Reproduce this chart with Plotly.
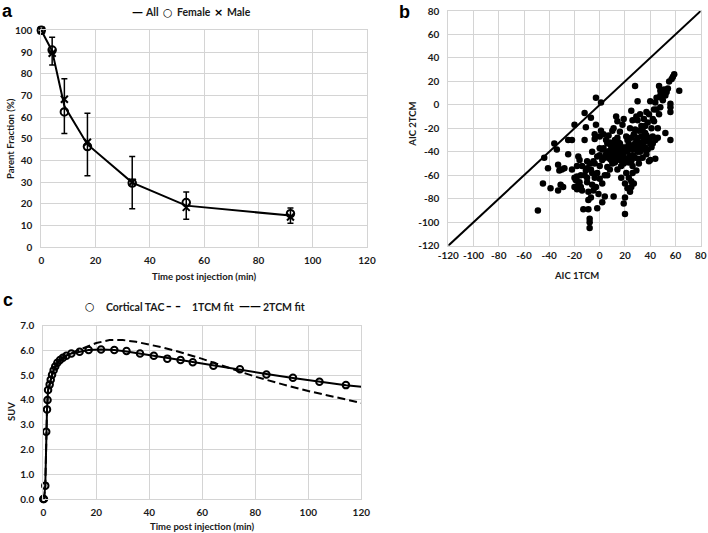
import plotly.graph_objects as go

W, H = 708, 533

# ---------- Panel a data ----------
pf_time = [0, 4, 8.5, 17, 33.5, 53.4, 91.8]
pf_all = [100, 90.4, 65.1, 47.4, 29.8, 19.2, 14.6]
pf_all_err = [0, 6.4, 12.6, 14.4, 12.0, 6.3, 3.5]
pf_female = [100, 90.9, 62.4, 46.4, 29.6, 20.6, 15.5]
pf_male = [100, 89.4, 68.2, 48.4, 30.0, 18.4, 14.0]

# ---------- Panel b data ----------
aic_1tcm = [
    -49, -45, -44, -41, -39, -36, -34, -33, -33, -32,
    -31, -30, -29, -28, -25, -25, -22, -20, -20, -19,
    -18, -18, -17, -17, -16, -15, -15, -14, -13, -12,
    -12, -11, -11, -10, -10, -10, -9, -9, -9, -8,
    -8, -8, -7, -7, -7, -6, -6, -5, -5, -4,
    -4, -4, -3, -3, -3, -2, -2, -1, 0, 0,
    0, 0, 1, 1, 2, 2, 2, 3, 3, 4,
    4, 5, 5, 6, 6, 7, 8, 8, 9, 10,
    10, 11, 11, 12, 12, 13, 13, 14, 14, 15,
    15, 16, 16, 17, 17, 18, 18, 19, 19, 19,
    20, 20, 20, 21, 21, 21, 22, 22, 23, 23,
    24, 24, 25, 25, 25, 26, 26, 26, 27, 27,
    28, 28, 28, 29, 29, 30, 30, 30, 31, 31,
    32, 32, 33, 33, 34, 35, 35, 36, 36, 37,
    37, 38, 38, 39, 40, 40, 40, 41, 41, 42,
    43, 44, 45, 46, 47, 47, 48, 48, 49, 50,
    51, 52, 53, 54, 55, 56, 56, 56, 56, 57,
    58, 59, 63, 52, 10, 12, 14, 15, 16, 17,
    18, 13, 11, 9, 7, 6, 8, 14, 20, 22,
    24, 26, 28, 30, 32, 34, 36, 38, 39, 24,
    22, 19, 26, 23, 25, 27, 29, 31, 33, 35,
    37, 42, 44, 43, 46, 48, 50, 45, 44, 42,
    39, 36, 34, 31, 29, 27, 25, 21, 18, 16,
    13, 10, 8, 6, 4, 2, 0, -2, -4, -6,
    -8, -10, -12, -14, -16, -18, -20, -22,
]
aic_2tcm = [
    -90, -67, -45, -54, -71, -33, -38, -51, -73, -56,
    -68, -55, -70, -54, -42, -30, -30, -17, -70, -64,
    -61, -52, -44, -68, -47, -60, -70, -73, -89, -7,
    -30, -19, -56, -62, -66, -48, -89, -74, -81, -97,
    -100, -105, -11, -55, -79, -40, -68, -48, -73, -29,
    -25, -50, 6, -17, -70, -88, -44, -76, -37, -27,
    -52, -63, -22, 2, -47, -67, -83, -25, -37, -60,
    -78, -30, -42, -33, -53, -26, -39, -46, -35, -22,
    -42, -20, -78, -49, -30, -10, -38, -14, -55, -32,
    -45, -23, -41, -52, -62, -17, -36, -12, -44, -84,
    -93, -67, -79, -27, -46, -58, -40, -71, -33, -49,
    -20, -74, -5, -28, -65, -13, -43, -52, -35, -25,
    16, -21, -45, -10, -30, 3, -40, -13, -22, -50,
    -8, -35, -27, -18, -45, -12, -38, -24, -31, -6,
    -42, -15, -28, -48, 3, -33, -47, -20, -36, -27,
    -4, -46, -4, -28, -8, 16, 8, 12, 6, 10,
    13, 8, 11, 14, 20, 1, -2, -6, -30, 22,
    24, 26, 12, -24, -38, -44, -40, -36, -47, -42,
    -40, -45, -35, -47, -44, -40, -32, -28, -37, -30,
    -36, -38, -33, -28, -40, -33, -36, -38, -30, -44,
    -48, -50, -58, -62, -70, -67, -56, -46, -36, -30,
    -26, -33, -30, -14, -20, -2, 4, 6, 2, -12,
    -8, -18, -22, -32, -38, -44, -48, -36, -46, -33,
    -32, -50, -55, -60, -45, -38, -43, -58, -62, -58,
    -50, -54, -60, -52, -66, -72, -62, -55,
]
identity_x = [-120, 80]
identity_y = [-120, 80]
aic_tickvals = [-120, -100, -80, -60, -40, -20, 0, 20, 40, 60, 80]
aic_ticktext = ["-120", "-100", "-80", "-60", "-40", "-20", "0", "20", "40", "60", "80"]

# ---------- Panel c data ----------
tac_time = [0, 0.25, 0.75, 1.1, 1.4, 1.6, 1.8, 2.4, 2.8, 3.3, 3.9, 4.5, 5.3, 6.3,
            7.4, 8.7, 10.6, 13.7, 17.1, 21.8, 26.8, 31.4, 36.5, 41.7, 46.8, 51.8,
            56.4, 64.2, 74.2, 84.2, 94.2, 104.2, 114.2]
tac_suv = [0, 0, 0.54, 2.72, 3.62, 4.0, 4.4, 4.62, 4.82, 5.02, 5.2, 5.35, 5.5, 5.61,
           5.71, 5.79, 5.88, 5.95, 6.02, 6.04, 6.02, 5.98, 5.88, 5.79, 5.67, 5.61,
           5.52, 5.38, 5.24, 5.03, 4.90, 4.74, 4.60]
fit2_time = [0, 0.25, 0.75, 1.1, 1.4, 1.6, 1.8, 2.4, 2.8, 3.3, 3.9, 4.5, 5.3, 6.3,
             7.4, 8.7, 10.6, 13.7, 17.1, 21.8, 26.8, 31.4, 36.5, 41.7, 46.8, 51.8,
             56.4, 64.2, 74.2, 84.2, 94.2, 104.2, 114.2, 120]
fit2_suv = [0, 0, 0.54, 2.72, 3.62, 4.0, 4.4, 4.62, 4.82, 5.02, 5.2, 5.35, 5.5, 5.61,
            5.71, 5.79, 5.88, 5.95, 6.02, 6.04, 6.02, 5.96, 5.88, 5.79, 5.69, 5.61,
            5.53, 5.39, 5.22, 5.05, 4.89, 4.73, 4.59, 4.53]
fit1_time = [0, 0.25, 0.75, 1.1, 1.4, 1.6, 1.8, 2.4, 2.8, 3.3, 3.9, 4.5, 5.3, 6.3,
             7.4, 8.7, 10.6, 13.7, 17, 20, 25, 30, 35, 40, 45, 50, 55, 60, 70, 80,
             90, 100, 110, 120]
fit1_suv = [0, 0, 0.54, 2.72, 3.62, 4.0, 4.4, 4.62, 4.82, 5.02, 5.2, 5.35, 5.5, 5.61,
            5.71, 5.79, 5.9, 6.04, 6.17, 6.3, 6.42, 6.42, 6.35, 6.25, 6.12, 5.98,
            5.83, 5.66, 5.3, 4.94, 4.64, 4.36, 4.12, 3.88]

FONT = "Lato"
TXT = "#1a1a1a"
GRID = "#d4d4d4"


def px_x(p):
    return p / W


def px_y(p):
    return 1 - p / H


fig = go.Figure()

# Panel a
fig.add_trace(go.Scatter(
    x=pf_time, y=pf_all, mode="lines", name="All",
    line=dict(color="black", width=2), cliponaxis=False,
    error_y=dict(type="data", array=pf_all_err, visible=True, color="black",
                 thickness=1.5, width=3),
    xaxis="x", yaxis="y", showlegend=False))
fig.add_trace(go.Scatter(
    x=pf_time, y=pf_female, mode="markers", name="Female", cliponaxis=False,
    marker=dict(symbol="circle-open", size=7.5, color="black", line=dict(width=2)),
    xaxis="x", yaxis="y", showlegend=False))
fig.add_trace(go.Scatter(
    x=pf_time, y=pf_male, mode="markers", name="Male", cliponaxis=False,
    marker=dict(symbol="x-thin-open", size=7, color="black", line=dict(width=2)),
    xaxis="x", yaxis="y", showlegend=False))

# Panel b
fig.add_trace(go.Scatter(
    x=identity_x, y=identity_y, mode="lines", showlegend=False,
    line=dict(color="black", width=2), xaxis="x2", yaxis="y2"))
fig.add_trace(go.Scatter(
    x=aic_1tcm, y=aic_2tcm, mode="markers", showlegend=False,
    marker=dict(symbol="circle", size=6.5, color="black"),
    xaxis="x2", yaxis="y2"))

# Panel c
fig.add_trace(go.Scatter(
    x=fit1_time, y=fit1_suv, mode="lines", name="1TCM fit",
    line=dict(color="black", width=2, dash="8px,4px"),
    xaxis="x3", yaxis="y3", showlegend=False))
fig.add_trace(go.Scatter(
    x=fit2_time, y=fit2_suv, mode="lines", name="2TCM fit",
    line=dict(color="black", width=2),
    xaxis="x3", yaxis="y3", showlegend=False))
fig.add_trace(go.Scatter(
    x=tac_time, y=tac_suv, mode="markers", name="Cortical TAC", cliponaxis=False,
    marker=dict(symbol="circle-open", size=6.5, color="black", line=dict(width=2)),
    xaxis="x3", yaxis="y3", showlegend=False))

axis_common = dict(showgrid=True, gridcolor=GRID, gridwidth=1, zeroline=False,
                   showline=True, mirror=True, linecolor=GRID, linewidth=1,
                   ticks="", automargin=False, tickangle=0,
                   tickfont=dict(family=FONT, size=10, color=TXT, weight="bold"))

fig.update_layout(
    width=W, height=H, margin=dict(l=0, r=0, t=0, b=0),
    paper_bgcolor="white", plot_bgcolor="white",
    font=dict(family=FONT, color=TXT),
    showlegend=False,
    xaxis=dict(domain=[px_x(41.3), px_x(367)], range=[0, 120], dtick=20,
               anchor="y", ticklabelstandoff=4, **axis_common),
    yaxis=dict(domain=[px_y(247.3), px_y(30.3)], range=[0, 100], dtick=10,
               anchor="x", ticklabelstandoff=6, **axis_common),
    xaxis2=dict(domain=[px_x(448.3), px_x(700.7)], range=[-120, 80],
                tickmode="array", tickvals=aic_tickvals, ticktext=aic_ticktext,
                anchor="y2", **axis_common),
    yaxis2=dict(domain=[px_y(245.7), px_y(11)], range=[-120, 80],
                tickmode="array", tickvals=aic_tickvals, ticktext=aic_ticktext,
                anchor="x2", ticklabelstandoff=6, **axis_common),
    xaxis3=dict(domain=[px_x(43.3), px_x(361.3)], range=[0, 120], dtick=20,
                anchor="y3", ticklabelstandoff=4, **axis_common),
    yaxis3=dict(domain=[px_y(499), px_y(325.7)], range=[0, 7], dtick=1,
                tickformat=".1f", anchor="x3", ticklabelstandoff=6, **axis_common),
)

ann = []
title_font = dict(family=FONT, size=9.5, color=TXT, weight="bold")


def add_text(text, x, y, font, xanchor="center", angle=0):
    ann.append(dict(text=text, x=px_x(x), y=px_y(y), xref="paper", yref="paper",
                    showarrow=False, font=font, xanchor=xanchor, yanchor="middle",
                    textangle=angle))


# axis titles
add_text("Time post injection (min)", 204, 276, title_font)
add_text("Parent Fraction (%)", 10, 139, title_font, angle=-90)
add_text("AIC 1TCM", 576.7, 275, title_font)
add_text("AIC 2TCM", 411.7, 124, title_font, angle=-90)
add_text("Time post injection (min)", 202, 526.7, title_font)
add_text("SUV", 11, 412, title_font, angle=-90)

# legends (key glyphs + labels)
leg_font = dict(family=FONT, size=10.5, color=TXT, weight="bold")
sym_font = dict(family="DejaVu Sans", size=11, color="black", weight="bold")
add_text("—", 137.5, 12.3, sym_font)
add_text("All", 143.3, 12.3, leg_font, xanchor="left")
add_text("○", 168, 12.3, sym_font)
add_text("Female", 175, 12.3, leg_font, xanchor="left")
add_text("×", 218.7, 12.3, sym_font)
add_text("Male", 225, 12.3, leg_font, xanchor="left")

add_text("○", 89.7, 306.7, sym_font)
add_text("Cortical TAC", 104, 306.7, leg_font, xanchor="left")
add_text("– –", 173.5, 306.7, sym_font)
add_text("1TCM fit", 190, 306.7, leg_font, xanchor="left")
add_text("——", 249.5, 306.7, sym_font)
add_text("2TCM fit", 261, 306.7, leg_font, xanchor="left")

# panel letters
letter_font = dict(family="Liberation Sans", size=18, color="black", weight="bold")
for t, x, y in [("a", 7, 11), ("b", 404, 12), ("c", 8, 300)]:
    add_text(t, x, y, letter_font)

fig.update_layout(annotations=ann)

fig.write_html("out.html", config={"displayModeBar": False},
               post_script="document.body.style.margin='0';"
                           "document.body.style.overflow='hidden';")
